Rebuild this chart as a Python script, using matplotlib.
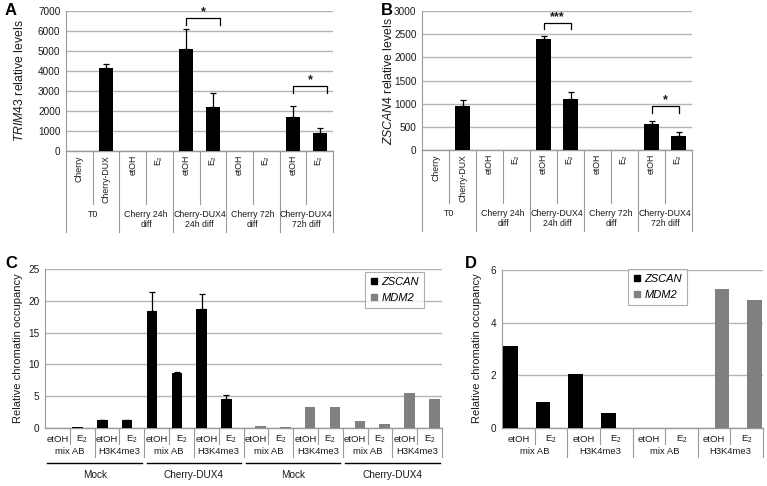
import numpy as np
import matplotlib.pyplot as plt
from matplotlib.lines import Line2D

plt.rcParams['font.family'] = ['Liberation Sans', 'DejaVu Sans']
plt.rcParams['mathtext.fontset'] = 'custom'
plt.rcParams['mathtext.rm'] = 'Liberation Sans'
plt.rcParams['mathtext.it'] = 'Liberation Sans:italic'

# --- Data ---
ab_labels = ['Cherry', 'Cherry-DUX', 'etOH', 'E$_2$', 'etOH', 'E$_2$',
             'etOH', 'E$_2$', 'etOH', 'E$_2$']
ab_groups = ['T0', 'Cherry 24h\ndiff', 'Cherry-DUX4\n24h diff',
             'Cherry 72h\ndiff', 'Cherry-DUX4\n72h diff']
trim43 = [0, 4150, 5, 5, 5120, 2220, 0, 0, 1720, 880]
trim43_err = [0, 200, 0, 0, 980, 700, 0, 0, 510, 290]
zscan4 = [0, 940, 0, 0, 2390, 1110, 0, 5, 560, 310]
zscan4_err = [0, 140, 0, 0, 60, 140, 0, 0, 70, 70]

# significance brackets: (x_left, x_right, bar_y, leg_y, label)
a_brackets = [(4, 5.28, 6650, 6300, '*'), (8, 9.28, 3250, 2900, '*')]
b_brackets = [(4, 5, 2735, 2605, '***'), (8, 9, 950, 805, '*')]

c_treat = ['etOH', 'E$_2$'] * 8
c_ab = ['mix AB', 'H3K4me3'] * 4
c_cells = ['Mock', 'Cherry-DUX4', 'Mock', 'Cherry-DUX4']
c_zscan = [0.05, 0.15, 1.2, 1.2, 18.4, 8.7, 18.7, 4.5, 0, 0, 0, 0, 0, 0, 0, 0]
c_zscan_err = [0, 0, 0.1, 0.1, 3.0, 0.15, 2.4, 0.7, 0, 0, 0, 0, 0, 0, 0, 0]
c_mdm2 = [0, 0, 0, 0, 0, 0, 0, 0, 0.3, 0.2, 3.3, 3.35, 1.05, 0.7, 5.5, 4.5]

d_treat = ['etOH', 'E$_2$'] * 4
d_ab = ['mix AB', 'H3K4me3', 'mix AB', 'H3K4me3']
d_zscan = [3.1, 1.0, 2.05, 0.57, 0, 0, 0, 0]
d_mdm2 = [0, 0, 0, 0, 0, 0, 5.27, 4.85]

# --- Style ---
W, H = 767, 486
TXT = '#1a1a1a'
GRID = '#b4b4b4'
LINE = '#9a9a9a'
GREY = '#808080'

fig = plt.figure(figsize=(W / 100, H / 100), dpi=100)


def add_ax(left, right, top, bottom):
    return fig.add_axes([left / W, 1 - bottom / H, (right - left) / W, (bottom - top) / H])


def style_ax(ax, ticks):
    ax.set_yticks(ticks)
    ax.set_ylim(ticks[0], ticks[-1])
    ax.yaxis.grid(True, color=GRID, lw=1)
    ax.set_axisbelow(True)
    for s in ['top', 'right', 'bottom']:
        ax.spines[s].set_visible(False)
    ax.spines['left'].set_color(LINE)
    ax.tick_params(axis='y', length=0, labelsize=7.2, colors=TXT, pad=4)
    ax.tick_params(axis='x', length=0, labelbottom=False)


def px(ax, p):
    # pixels below the x axis -> axes fraction
    return -p / (ax.get_position().height * H)


def err_bars(ax, xs, vals, errs):
    xs, vals, errs = np.asarray(xs), np.asarray(vals), np.asarray(errs)
    m = errs > 0
    ax.errorbar(xs[m], vals[m], yerr=[np.zeros(m.sum()), errs[m]], fmt='none',
                ecolor='black', elinewidth=0.9, capsize=2.5, capthick=0.9, zorder=4)


def ab_table(ax, labels, groups):
    tr = ax.get_xaxis_transform()
    n = len(labels)
    for i, lab in enumerate(labels):
        ax.text(i, px(ax, 4), lab, rotation=90, ha='center', va='top',
                transform=tr, fontsize=6.3, color=TXT)
    for b in range(n + 1):
        L = 81 if b % 2 == 0 else 53
        ax.plot([b - 0.5, b - 0.5], [0, px(ax, L)], transform=tr,
                clip_on=False, color=LINE, lw=0.8)
    ax.plot([-0.5, n - 0.5], [0, 0], transform=tr, clip_on=False, color=LINE, lw=1)
    for g, lab in enumerate(groups):
        ax.text(2 * g + 0.5, px(ax, 59), lab, ha='center', va='top',
                transform=tr, fontsize=6.3, color=TXT, linespacing=1.15)


def cd_table(ax, treat, abs_, cells=None):
    tr = ax.get_xaxis_transform()
    n = len(treat)
    for i, lab in enumerate(treat):
        ax.text(i, px(ax, 11), lab, ha='center', va='center',
                transform=tr, fontsize=6.8, color=TXT)
    for b in range(1, n + 1):
        L = 29 if b % 2 == 0 else 16
        ax.plot([b - 0.5, b - 0.5], [0, px(ax, L)], transform=tr,
                clip_on=False, color=LINE, lw=0.8)
    ax.plot([-0.5, n - 0.5], [0, 0], transform=tr, clip_on=False, color=LINE, lw=1)
    for g, lab in enumerate(abs_):
        ax.text(2 * g + 0.5, px(ax, 23), lab, ha='center', va='center',
                transform=tr, fontsize=6.8, color=TXT)
    if cells:
        for g, lab in enumerate(cells):
            ax.plot([4 * g - 0.4, 4 * g + 3.4], [px(ax, 35), px(ax, 35)],
                    transform=tr, clip_on=False, color='black', lw=1)
            ax.text(4 * g + 1.5, px(ax, 47), lab, ha='center', va='center',
                    transform=tr, fontsize=7.2, color=TXT)


def brackets(ax, specs):
    for x0, x1, y, yl, lab in specs:
        ax.plot([x0, x0, x1, x1], [yl, y, y, yl], color='black', lw=0.9, clip_on=False)
        ax.text((x0 + x1) / 2, y, lab, ha='center', va='bottom',
                fontsize=9, fontweight='bold', color=TXT)


# --- Panel A ---
axA = add_ax(66, 333, 11, 151)
x = np.arange(len(trim43))
axA.bar(x, trim43, width=0.52, color='black', zorder=3)
err_bars(axA, x, trim43, trim43_err)
axA.set_xlim(-0.5, len(x) - 0.5)
style_ax(axA, np.arange(0, 7001, 1000))
ab_table(axA, ab_labels, ab_groups)
brackets(axA, a_brackets)
fig.text(20 / W, 1 - 81 / H, r'$\mathit{TRIM43}$ relative levels', rotation=90,
         ha='center', va='center', fontsize=8.8, color=TXT)
fig.text(5 / W, 1 - 3 / H, 'A', fontsize=12, fontweight='bold', va='top')

# --- Panel B ---
axB = add_ax(422, 692, 11, 150)
axB.bar(x, zscan4, width=0.52, color='black', zorder=3)
err_bars(axB, x, zscan4, zscan4_err)
axB.set_xlim(-0.5, len(x) - 0.5)
style_ax(axB, np.arange(0, 3001, 500))
ab_table(axB, ab_labels, ab_groups)
brackets(axB, b_brackets)
fig.text(389 / W, 1 - 81 / H, r'$\mathit{ZSCAN4}$ relative levels', rotation=90,
         ha='center', va='center', fontsize=8.8, color=TXT)
fig.text(381 / W, 1 - 3 / H, 'B', fontsize=12, fontweight='bold', va='top')

# --- Panel C ---
axC = add_ax(45, 442, 269, 428)
xc = np.arange(len(c_zscan))
axC.bar(xc - 0.19, c_zscan, width=0.42, color='black', zorder=3)
axC.bar(xc + 0.19, c_mdm2, width=0.42, color=GREY, zorder=3)
err_bars(axC, xc - 0.19, c_zscan, c_zscan_err)
axC.set_xlim(-0.5, len(xc) - 0.5)
style_ax(axC, np.arange(0, 26, 5))
cd_table(axC, c_treat, c_ab, c_cells)
fig.text(18 / W, 1 - 348 / H, 'Relative chromatin occupancy', rotation=90,
         ha='center', va='center', fontsize=8, color=TXT)
fig.text(5 / W, 1 - 256 / H, 'C', fontsize=12, fontweight='bold', va='top')

handles = [Line2D([], [], marker='s', ls='none', color='black', markersize=4.5),
           Line2D([], [], marker='s', ls='none', color=GREY, markersize=4.5)]
legC = fig.legend(handles, ['ZSCAN', 'MDM2'], loc='upper right',
                  bbox_to_anchor=(430 / W, 1 - 266 / H), frameon=True, fancybox=False,
                  edgecolor=LINE, prop={'style': 'italic', 'size': 8},
                  handlelength=0.6, handletextpad=0.4, borderpad=0.5, labelspacing=0.5)
legC.get_frame().set_linewidth(0.8)

# --- Panel D ---
axD = add_ax(502, 763, 270, 428)
xd = np.arange(len(d_zscan))
axD.bar(xd - 0.245, d_zscan, width=0.45, color='black', zorder=3)
axD.bar(xd + 0.245, d_mdm2, width=0.45, color=GREY, zorder=3)
axD.set_xlim(-0.5, len(xd) - 0.5)
style_ax(axD, np.arange(0, 7, 2))
cd_table(axD, d_treat, d_ab)
fig.text(477 / W, 1 - 348 / H, 'Relative chromatin occupancy', rotation=90,
         ha='center', va='center', fontsize=8, color=TXT)
fig.text(465 / W, 1 - 256 / H, 'D', fontsize=12, fontweight='bold', va='top')

legD = fig.legend(handles, ['ZSCAN', 'MDM2'], loc='upper right',
                  bbox_to_anchor=(693 / W, 1 - 263 / H), frameon=True, fancybox=False,
                  edgecolor=LINE, prop={'style': 'italic', 'size': 8},
                  handlelength=0.6, handletextpad=0.4, borderpad=0.5, labelspacing=0.5)
legD.get_frame().set_linewidth(0.8)

fig.savefig('out.png', dpi=100)
